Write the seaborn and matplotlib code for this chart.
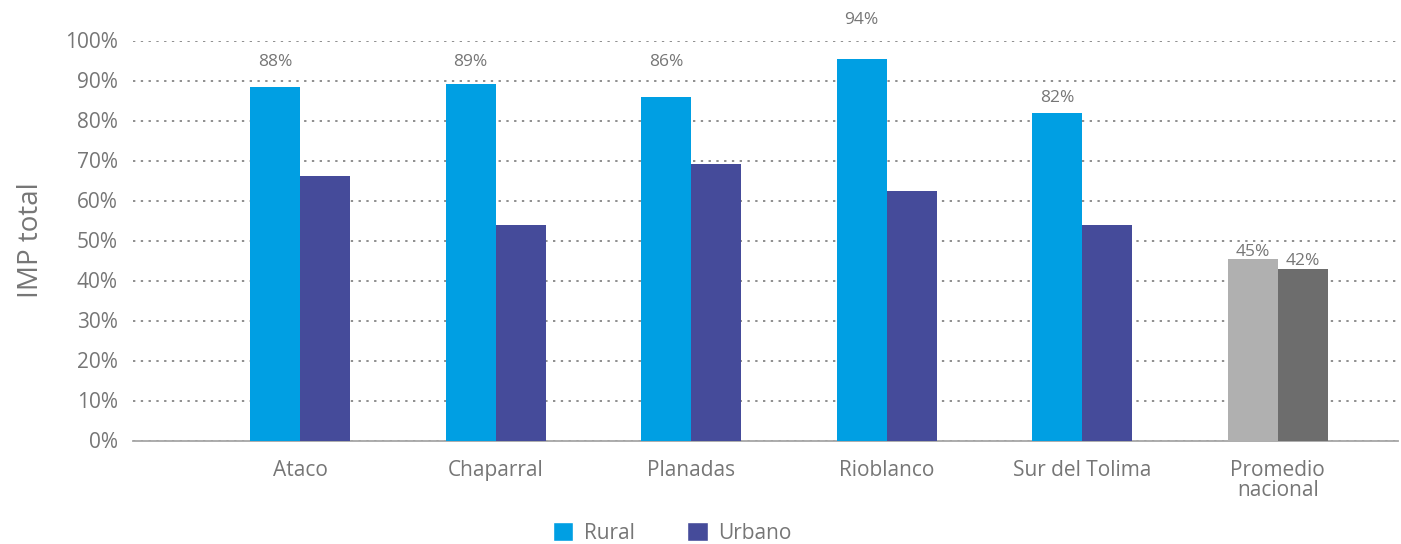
import matplotlib
matplotlib.use("Agg")
import matplotlib.pyplot as plt
from matplotlib.patches import Patch
from matplotlib.ticker import PercentFormatter
import seaborn as sns
import pandas as pd

# ---- data ----
categories = ["Ataco", "Chaparral", "Planadas", "Rioblanco", "Sur del Tolima", "Promedio\nnacional"]
rural = [0.884, 0.892, 0.860, 0.954, 0.819, 0.454]
urbano = [0.662, 0.540, 0.692, 0.624, 0.540, 0.428]
rural_labels = ["88%", "89%", "86%", "94%", "82%", "45%"]
urbano_labels = ["", "", "", "", "", "42%"]
series_names = ["Rural", "Urbano"]
y_title = "IMP total"

# ---- label placement (style) ----
rural_label_y = [0.947, 0.947, 0.947, 1.05, 0.856, 0.471]
urbano_label_y = [None, None, None, None, None, 0.449]

# ---- colours ----
c_rural = "#009FE3"
c_urbano = "#454B9A"
c_rural_avg = "#B0B0B0"
c_urbano_avg = "#6D6D6D"
txt = "#767676"
grid_c = "#8E8E8E"

df = pd.DataFrame({
    "cat": categories * 2,
    "val": rural + urbano,
    "tipo": [series_names[0]] * len(categories) + [series_names[1]] * len(categories),
})

sns.set_theme(style="white")
plt.rcParams["font.family"] = ["Open Sans", "DejaVu Sans"]

fig = plt.figure(figsize=(14.01, 5.44), dpi=100)
ax = fig.add_axes([133 / 1401, 1 - 440.5 / 544, (1398 - 133) / 1401, 400 / 544])

sns.barplot(data=df, x="cat", y="val", hue="tipo", palette=[c_rural, c_urbano],
            width=0.512, gap=0, saturation=1, errorbar=None, legend=False, ax=ax)

# recolour national average bars
ax.containers[0][5].set_facecolor(c_rural_avg)
ax.containers[1][5].set_facecolor(c_urbano_avg)
for cont in ax.containers:
    for p in cont:
        p.set_edgecolor("none")
        p.set_zorder(2)

ax.set_ylim(0, 1)
ax.set_xlim(-0.855, 5.615)
ax.set_yticks([i / 10 for i in range(11)])
ax.yaxis.set_major_formatter(PercentFormatter(1.0, decimals=0))

ax.set_axisbelow(True)
ax.yaxis.grid(True, color=grid_c, linestyle=(0, (1.2, 2.8)), linewidth=1.4)
ax.xaxis.grid(False)
for s in ["top", "right", "left"]:
    ax.spines[s].set_visible(False)
ax.spines["bottom"].set_color("#A6A6A6")
ax.spines["bottom"].set_linewidth(1.3)
ax.spines["bottom"].set_zorder(1)

ax.tick_params(axis="y", length=0, pad=11, labelsize=15, labelcolor=txt)
ax.tick_params(axis="x", length=0, pad=14, labelsize=15, labelcolor=txt)
for lab in ax.get_xticklabels():
    lab.set_linespacing(0.92)
    lab.set_verticalalignment("top")

ax.set_xlabel("")
ax.set_ylabel(y_title, fontsize=20, color=txt, labelpad=14)

# data labels
for cont, labels, ys in [(ax.containers[0], rural_labels, rural_label_y),
                         (ax.containers[1], urbano_labels, urbano_label_y)]:
    for p, t, yy in zip(cont, labels, ys):
        if t and yy is not None:
            ax.text(p.get_x() + p.get_width() / 2, yy, t, ha="center", va="center",
                    fontsize=12.5, color=txt, clip_on=False)

handles = [Patch(facecolor=c_rural), Patch(facecolor=c_urbano)]
fig.legend(handles, series_names, loc="center", bbox_to_anchor=(672 / 1401, 11 / 544),
           ncol=2, frameon=False, fontsize=15, labelcolor=txt,
           handlelength=1.0, handleheight=1.0, handletextpad=0.5, columnspacing=2.5,
           borderaxespad=0, borderpad=0)

fig.savefig("out.png", dpi=100)
